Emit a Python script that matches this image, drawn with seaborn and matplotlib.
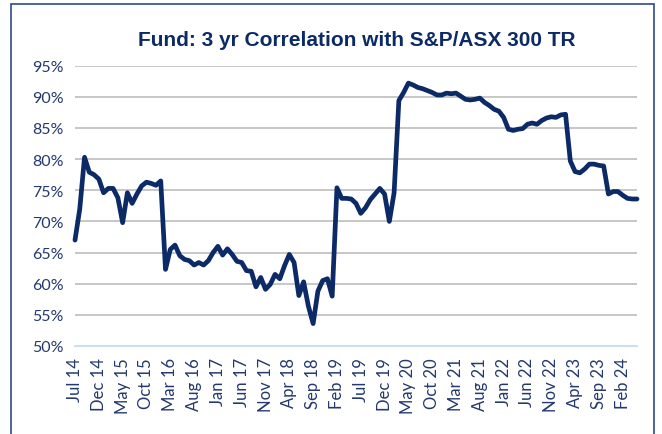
import numpy as np
import pandas as pd
import seaborn as sns
import matplotlib.pyplot as plt
from matplotlib.patches import Rectangle

# monthly 3 yr correlation, Jul 2014 .. May 2024 (in %)
corr_2014_2019 = [67.0, 72.0, 80.3, 77.9, 77.5, 76.8, 74.6, 75.3, 75.3, 73.8,
                  69.8, 74.6, 72.9, 74.4, 75.7, 76.3, 76.1, 75.8, 76.5, 62.3,
                  65.5, 66.2, 64.5, 63.9, 63.7, 63.0, 63.4, 63.0, 63.7, 65.0,
                  66.0, 64.6, 65.6, 64.7, 63.6, 63.4, 62.1, 62.0, 59.5, 61.0,
                  59.1, 59.9, 61.5, 60.8, 62.9, 64.7, 63.4, 58.1, 60.3, 56.4,
                  53.6, 58.8, 60.5, 60.8, 58.0, 75.4]
corr_2019_2024 = [73.7, 73.7, 73.6, 72.9, 71.3, 72.2, 73.5, 74.4, 75.3, 74.4,
                  70.0, 74.6, 89.4, 90.7, 92.2, 91.9, 91.5, 91.3, 91.0, 90.7,
                  90.3, 90.3, 90.6, 90.5, 90.6, 90.1, 89.6, 89.5, 89.6, 89.8,
                  89.1, 88.6, 88.0, 87.7, 86.7, 84.8, 84.6, 84.8, 84.9, 85.6,
                  85.8, 85.6, 86.2, 86.6, 86.8, 86.7, 87.1, 87.2, 79.7, 78.0,
                  77.8, 78.4, 79.2, 79.2, 79.0, 78.9, 74.4, 74.8, 74.8, 74.2,
                  73.7, 73.6, 73.6]
tick_labels = ["Jul 14", "Dec 14", "May 15", "Oct 15", "Mar 16", "Aug 16",
               "Jan 17", "Jun 17", "Nov 17", "Apr 18", "Sep 18", "Feb 19",
               "Jul 19", "Dec 19", "May 20", "Oct 20", "Mar 21", "Aug 21",
               "Jan 22", "Jun 22", "Nov 22", "Apr 23", "Sep 23", "Feb 24"]

values = corr_2014_2019 + corr_2019_2024
df = pd.DataFrame({"month": np.arange(len(values)), "corr": values})

navy = "#0c2a66"
text_col = "#24386e"

sns.set_style("white")
plt.rcParams["font.family"] = ["Lato", "DejaVu Sans"]

fig = plt.figure(figsize=(6.62, 4.35), dpi=100)
ax = fig.add_axes([75 / 662, 1 - 347 / 435, (637 - 75) / 662, (347 - 66.7) / 435])

sns.lineplot(data=df, x="month", y="corr", ax=ax, color=navy, linewidth=3.4)
for ln in ax.lines:
    ln.set_clip_on(False)
    ln.set_solid_joinstyle("round")

ax.set_ylim(50, 95)
ax.set_xlim(0, len(values) - 1)
ax.set_yticks(range(50, 96, 5))
ax.set_yticklabels([f"{v}%" for v in range(50, 96, 5)], fontsize=11.5, color=text_col)
ax.set_xticks(range(0, 5 * len(tick_labels), 5))
ax.set_xticklabels(tick_labels, rotation=90, fontsize=12, color=text_col)
ax.set_xlabel("")
ax.set_ylabel("")

ax.grid(axis="y", color="#bdbdbd", linewidth=1.2)
ax.set_axisbelow(True)
for s in ["top", "right", "left"]:
    ax.spines[s].set_visible(False)
ax.spines["bottom"].set_color("#cfdcf2")
ax.spines["bottom"].set_linewidth(1.5)
ax.tick_params(axis="x", direction="in", length=4, color="#cfdcf2", pad=8)
ax.tick_params(axis="y", length=0, pad=8)

fig.text(357 / 662, 1 - 40 / 435, "Fund: 3 yr Correlation with S&P/ASX 300 TR",
         ha="center", va="center", fontsize=15, fontweight="bold", color=navy,
         family=["Liberation Sans", "DejaVu Sans"])

fig.patches.append(Rectangle((11 / 662, -0.1), (654 - 11) / 662, 1.1 - 5 / 435,
                             transform=fig.transFigure, fill=False,
                             edgecolor="#2e4a8a", linewidth=1.2))

fig.savefig("out.png", dpi=100)
